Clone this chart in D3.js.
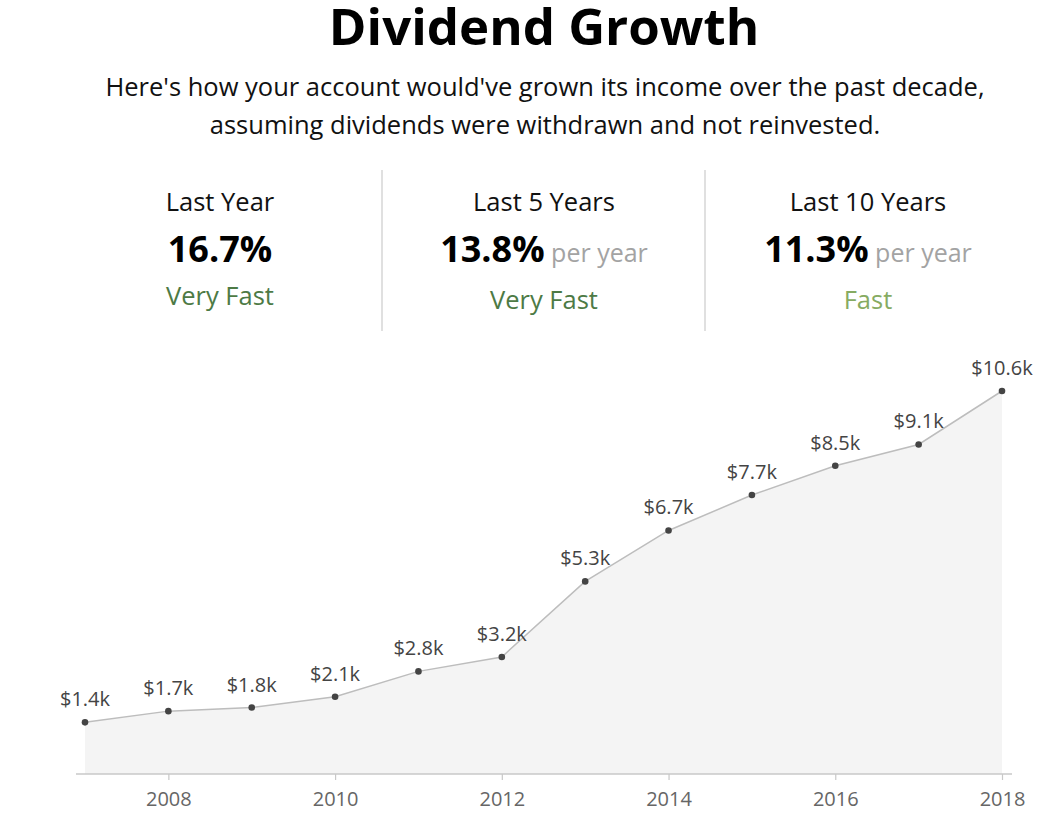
<!DOCTYPE html>
<html><head><meta charset="utf-8">
<script src="https://cdn.jsdelivr.net/npm/d3@7/dist/d3.min.js"></script>
<style>
html,body{margin:0;padding:0;background:#fff;}
svg{display:block;font-family:"Open Sans",sans-serif;}
</style></head>
<body>
<svg id="c" width="1050" height="816"></svg>
<script>
const years = [2007,2008,2009,2010,2011,2012,2013,2014,2015,2016,2017,2018];
const income = [1430,1740,1840,2140,2840,3240,5330,6740,7720,8530,9120,10600];
const tickYears = [2008,2010,2012,2014,2016,2018];
const statTitles = ["Last Year","Last 5 Years","Last 10 Years"];
const statValues = ["16.7%","13.8%","11.3%"];
const statSuffix = [""," per year"," per year"];
const statRatings = ["Very Fast","Very Fast","Fast"];
const ratingColors = {"Very Fast":"#4d7a45","Fast":"#86ab62"};

const svg = d3.select("#c");

// Title
svg.append("text").attr("x",544).attr("y",45).attr("text-anchor","middle")
  .attr("font-size",51).attr("font-weight",700).attr("fill","#000").text("Dividend Growth");
const sub = ["Here's how your account would've grown its income over the past decade,",
             "assuming dividends were withdrawn and not reinvested."];
svg.selectAll("text.sub").data(sub).join("text").attr("class","sub")
  .attr("x",545).attr("y",(d,i)=>96+i*38).attr("text-anchor","middle")
  .attr("font-size",25.5).attr("fill","#111").text(d=>d);

// Stats
const colX = [220,544,868];
[382,705].forEach(x=>svg.append("line").attr("x1",x).attr("x2",x).attr("y1",170).attr("y2",331)
  .attr("stroke","#d6d6d6").attr("stroke-width",1.5));
statTitles.forEach((t,i)=>{
  svg.append("text").attr("x",colX[i]).attr("y",211).attr("text-anchor","middle")
    .attr("font-size",25.5).attr("fill","#111").text(t);
  const v = svg.append("text").attr("x",colX[i]).attr("y",262).attr("text-anchor","middle");
  v.append("tspan").attr("font-size",36).attr("font-weight",700).attr("fill","#000").text(statValues[i]);
  if(statSuffix[i]) v.append("tspan").attr("font-size",25).attr("fill","#a3a3a3").text(statSuffix[i]);
  svg.append("text").attr("x",colX[i]).attr("y",i===0?305:309).attr("text-anchor","middle")
    .attr("font-size",25.5).attr("fill",ratingColors[statRatings[i]]).text(statRatings[i]);
});

// Chart
const x = d3.scaleLinear().domain([2007,2018]).range([85,1002]);
const y = d3.scaleLinear().domain([0,10600]).range([774,391]);
const data = years.map((yr,i)=>({yr,v:income[i]}));

svg.append("path").datum(data)
  .attr("d",d3.area().x(d=>x(d.yr)).y0(y(0)).y1(d=>y(d.v)))
  .attr("fill","#f4f4f4");
svg.append("path").datum(data)
  .attr("d",d3.line().x(d=>x(d.yr)).y(d=>y(d.v)))
  .attr("fill","none").attr("stroke","#bdbdbd").attr("stroke-width",1.5);

// axis
svg.append("line").attr("x1",76).attr("x2",1012).attr("y1",y(0)).attr("y2",y(0))
  .attr("stroke","#c8c8c8").attr("stroke-width",1.5);
const ax = svg.append("g").attr("transform",`translate(0,${y(0)})`)
  .call(d3.axisBottom(x).tickValues(tickYears).tickFormat(d3.format("d")).tickSize(6).tickSizeOuter(0).tickPadding(12));
ax.select(".domain").remove();
ax.selectAll(".tick line").attr("stroke","#c8c8c8").attr("stroke-width",1.2);
ax.selectAll(".tick text").attr("font-size",20).attr("fill","#666").attr("font-family","Open Sans, sans-serif");

svg.selectAll("circle.pt").data(data).join("circle").attr("class","pt")
  .attr("cx",d=>x(d.yr)).attr("cy",d=>y(d.v)).attr("r",3.3).attr("fill","#444");
svg.selectAll("text.lbl").data(data).join("text").attr("class","lbl")
  .attr("x",d=>x(d.yr)).attr("y",d=>y(d.v)-16).attr("text-anchor","middle")
  .attr("font-size",20).attr("fill","#444")
  .text(d=>"$"+(d.v/1000).toFixed(1)+"k");
</script>
</body></html>
